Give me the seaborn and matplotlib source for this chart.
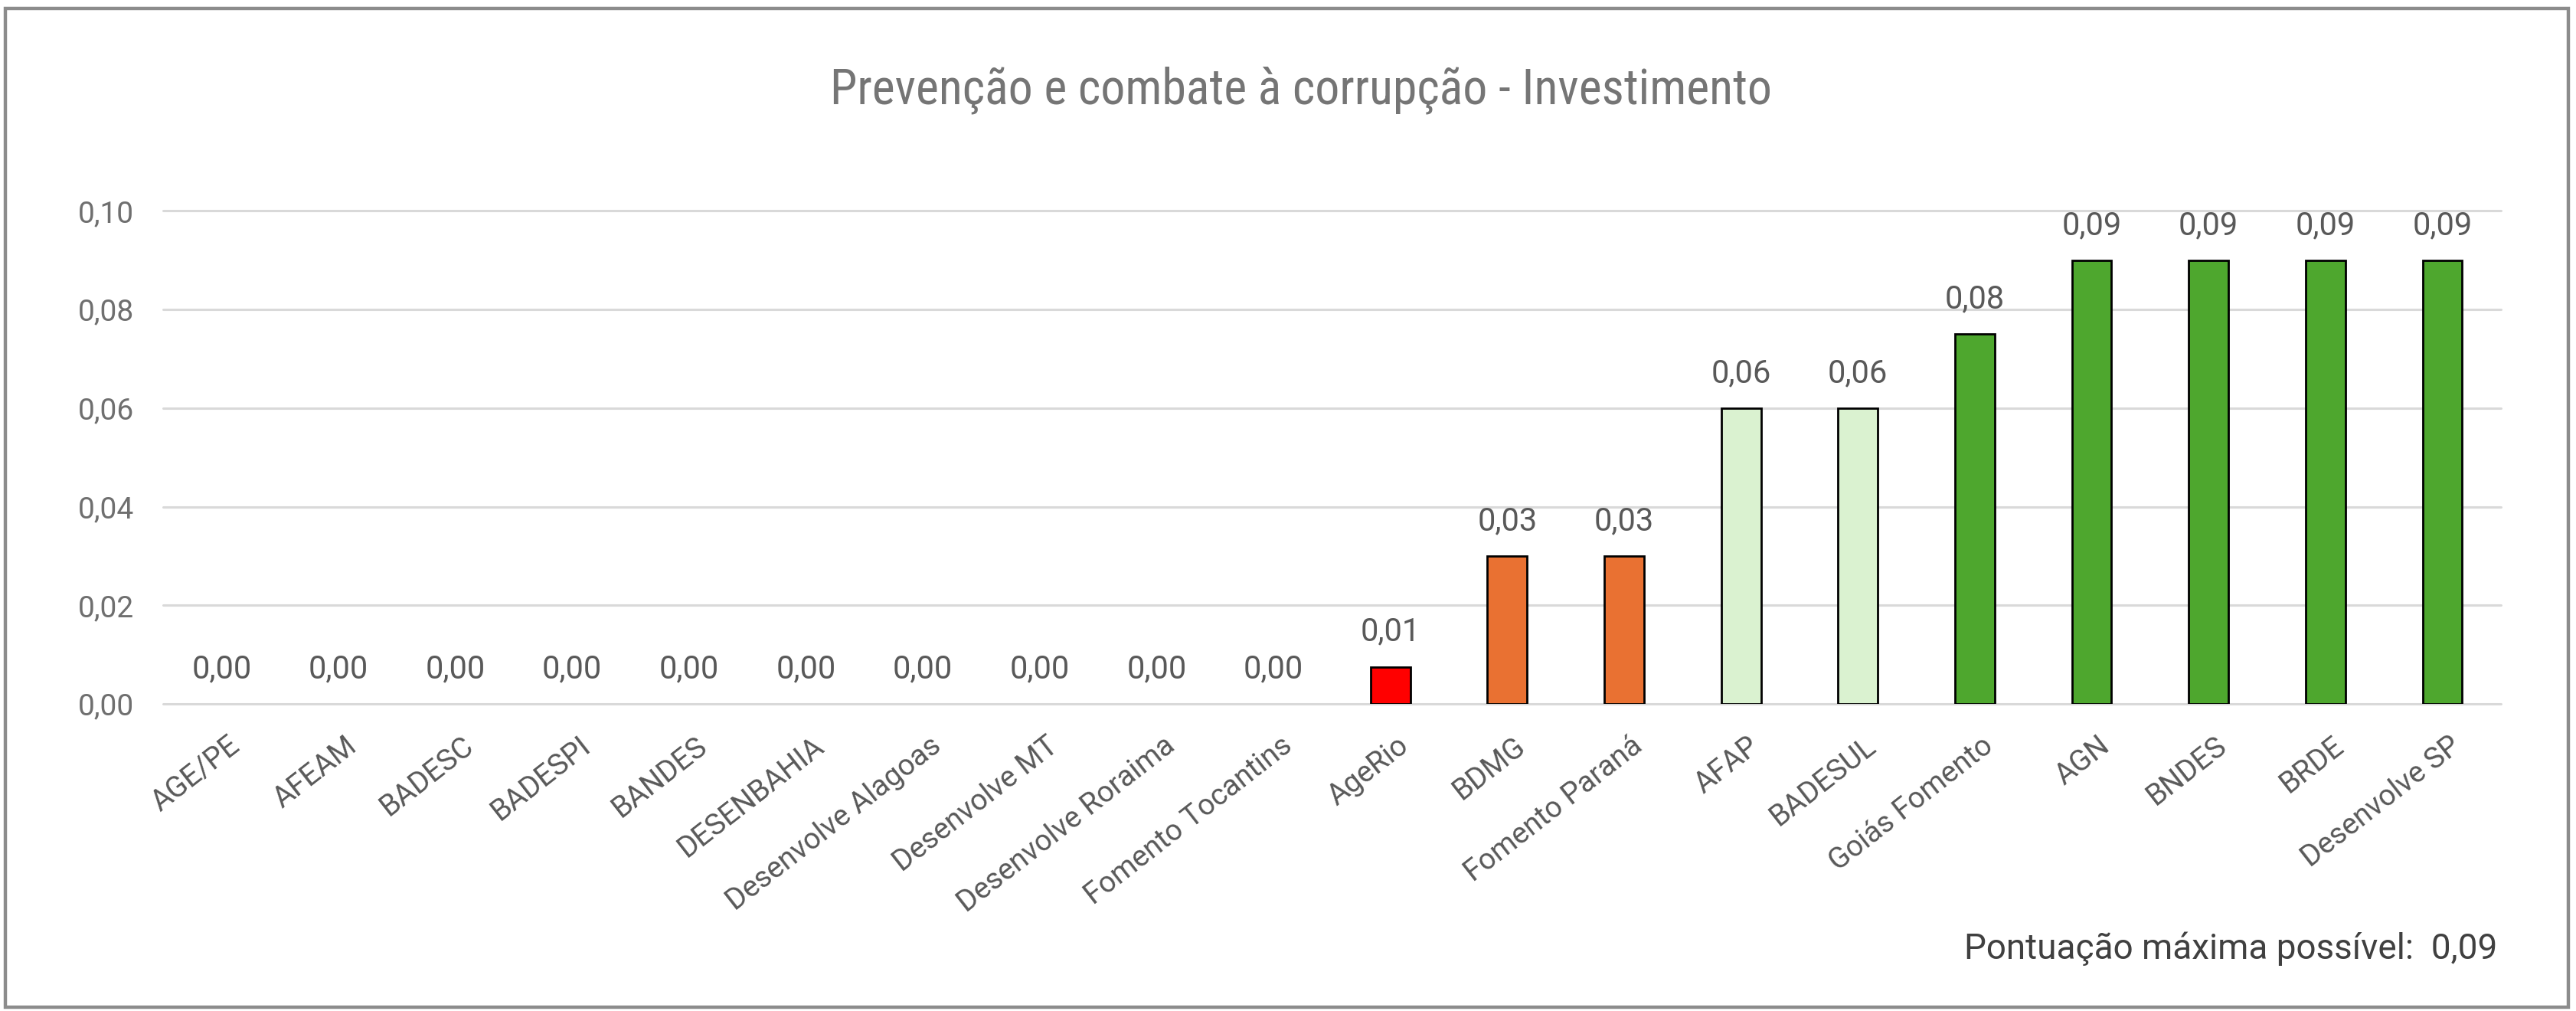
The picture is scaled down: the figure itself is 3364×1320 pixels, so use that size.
import matplotlib
matplotlib.use('Agg')
from decimal import Decimal, ROUND_HALF_UP
import pandas as pd
import seaborn as sns
import matplotlib.pyplot as plt
from matplotlib import transforms
from matplotlib.patches import Rectangle
from matplotlib.ticker import FuncFormatter

# chart data
agencies = ['AGE/PE', 'AFEAM', 'BADESC', 'BADESPI', 'BANDES', 'DESENBAHIA',
            'Desenvolve Alagoas', 'Desenvolve MT', 'Desenvolve Roraima',
            'Fomento Tocantins', 'AgeRio', 'BDMG', 'Fomento Paraná', 'AFAP',
            'BADESUL', 'Goiás Fomento', 'AGN', 'BNDES', 'BRDE', 'Desenvolve SP']
scores = [0.0, 0.0, 0.0, 0.0, 0.0, 0.0, 0.0, 0.0, 0.0, 0.0,
          0.0075, 0.03, 0.03, 0.06, 0.06, 0.075, 0.09, 0.09, 0.09, 0.09]
bar_colors = ['#FF0000'] * 11 + ['#E97132'] * 2 + ['#DAF2D0'] * 2 + ['#4EA72E'] * 5
y_ticks = [0.0, 0.02, 0.04, 0.06, 0.08, 0.10]
title = 'Prevenção e combate à corrupção - Investimento'
note = 'Pontuação máxima possível:  0,09'


def br(v):
    # two decimals, comma separator, half-up rounding like Excel
    d = Decimal(str(v)).quantize(Decimal('0.01'), rounding=ROUND_HALF_UP)
    return str(d).replace('.', ',')


df = pd.DataFrame({'agency': agencies, 'score': scores})

sns.set_style('white')
plt.rcParams['font.family'] = ['Roboto', 'DejaVu Sans']

fig = plt.figure(figsize=(16.82, 6.6), dpi=200)
ax = fig.add_axes([0.0633, 0.3038, 0.9075, 0.4875])

sns.barplot(data=df, x='agency', y='score', hue='agency', palette=bar_colors,
            legend=False, width=0.34, edgecolor='black', linewidth=1.0,
            saturation=1, ax=ax)

# no outline on empty bars
for p in ax.patches:
    if p.get_height() == 0:
        p.set_linewidth(0)

for cont in ax.containers:
    vals = [br(b.get_height()) for b in cont]
    ax.bar_label(cont, labels=vals, padding=9, fontsize=15, color='#595959')

ax.set_ylim(0, 0.10)
ax.set_xlim(-0.5, len(agencies) - 0.5)
ax.set_yticks(y_ticks)
ax.yaxis.set_major_formatter(FuncFormatter(lambda v, pos: f'{v:.2f}'.replace('.', ',')))
ax.yaxis.grid(True, color='#D9D9D9', linewidth=1.1)
for gl in ax.get_ygridlines():
    gl.set_clip_on(False)
ax.set_axisbelow(True)
for s in ax.spines.values():
    s.set_visible(False)
ax.tick_params(axis='y', length=0, pad=13.5, labelsize=14, labelcolor='#6F6F6F')
ax.tick_params(axis='x', length=0, pad=13, labelsize=13.8, labelcolor='#595959')
shift = transforms.ScaledTranslation(3 / 72, 0, fig.dpi_scale_trans)
for lbl in ax.get_xticklabels():
    lbl.set_rotation(38)
    lbl.set_ha('right')
    lbl.set_va('top')
    lbl.set_rotation_mode('anchor')
    lbl.set_transform(lbl.get_transform() + shift)
ax.set_xlabel('')
ax.set_ylabel('')

fig.text(0.505, 0.8977, title, ha='center', va='baseline', fontsize=23,
         color='#757575', family=['Roboto Condensed', 'DejaVu Sans'])
fig.text(0.9694, 0.0515, note, ha='right', va='baseline', fontsize=16.5, color='#404040')

# chart frame
fig.patches.append(Rectangle((0.002, 0.004), 0.995, 0.988, transform=fig.transFigure,
                             fill=False, edgecolor='#8C8C8C', linewidth=1.6))

fig.savefig('out.png', dpi=200)
